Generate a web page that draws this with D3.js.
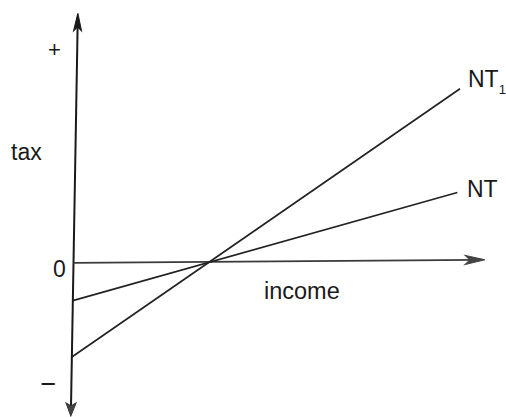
<!DOCTYPE html>
<html>
<head>
<meta charset="utf-8">
<script src="https://cdn.jsdelivr.net/npm/d3@7"></script>
<style>
  html, body { margin: 0; padding: 0; background: #fff; }
  svg { display: block; }
  text { font-family: "Liberation Sans", Arial, sans-serif; fill: #1a1a1a; }
</style>
</head>
<body>
<script>
// Net tax schedules: tax against income, both pivoting at the break-even income.
const incomeDomain = [0, 100];
const taxDomain = [-152, 248];
const seriesNames = ["NT", "NT1"];
const seriesIncome = [[0, 93], [0, 93.2]];
const seriesTax = [[-37.5, 67], [-93.5, 170]];
const axisLabels = { y: "tax", x: "income", plus: "+", minus: "\u2212", zero: "0" };

const W = 506, H = 417;
const svg = d3.select("body").append("svg").attr("width", W).attr("height", H);

const x = d3.scaleLinear().domain(incomeDomain).range([73.5, 485]);
const y = d3.scaleLinear().domain(taxDomain).range([416, 13]);

const ox = x(0), oy = y(0);
// slight shear of the drawn frame (axes lean a little)
const plot = svg.append("g")
  .attr("transform", `translate(${ox},${oy}) matrix(1,-0.00735,-0.0174,1,0,0) translate(${-ox},${-oy})`);

const ink = "#1a1a1a";

// vertical (tax) axis with arrows at both ends
const yTop = y(taxDomain[1]), yBot = y(taxDomain[0]);
plot.append("line")
  .attr("x1", ox).attr("x2", ox).attr("y1", yTop + 6).attr("y2", yBot - 6)
  .attr("stroke", ink).attr("stroke-width", 2);
plot.append("path")
  .attr("d", `M${ox},${yTop} L${ox - 4},${yTop + 18} L${ox},${yTop + 14} L${ox + 4},${yTop + 18} Z`)
  .attr("fill", ink).attr("stroke", ink).attr("stroke-width", 1);
plot.append("path")
  .attr("d", `M${ox},${yBot} L${ox - 5},${yBot - 13} L${ox},${yBot - 10} L${ox + 5},${yBot - 13} Z`)
  .attr("fill", "#444").attr("stroke", "#333").attr("stroke-width", 1);

// horizontal (income) axis with arrow
const xEnd = x(incomeDomain[1]);
plot.append("line")
  .attr("x1", ox).attr("x2", xEnd - 8).attr("y1", oy).attr("y2", oy)
  .attr("stroke", "#3a3a3a").attr("stroke-width", 1.8);
plot.append("path")
  .attr("d", `M${xEnd},${oy} L${xEnd - 20},${oy - 4.5} L${xEnd - 15},${oy} L${xEnd - 20},${oy + 4.5} Z`)
  .attr("fill", "#444").attr("stroke", "#444").attr("stroke-width", 1);

// tax schedules
const line = d3.line().x(d => x(d[0])).y(d => y(d[1]));
seriesNames.forEach((name, i) => {
  const pts = seriesIncome[i].map((inc, j) => [inc, seriesTax[i][j]]);
  plot.append("path")
    .attr("d", line(pts))
    .attr("fill", "none")
    .attr("stroke", "#222")
    .attr("stroke-width", 1.7);
});

// labels
svg.append("text").attr("x", 54.5).attr("y", 57).attr("text-anchor", "middle")
  .attr("font-size", 22).text(axisLabels.plus);
svg.append("text").attr("x", 11).attr("y", 160).attr("font-size", 23).text(axisLabels.y);
svg.append("text").attr("x", 53).attr("y", 277).attr("font-size", 23).text(axisLabels.zero);
svg.append("text").attr("x", 48.5).attr("y", 393).attr("text-anchor", "middle")
  .attr("font-size", 27).text(axisLabels.minus);
svg.append("text").attr("x", 264).attr("y", 299).attr("font-size", 23.5).text(axisLabels.x);

// series labels next to line ends
svg.append("text").attr("x", 467).attr("y", 197).attr("font-size", 23).text("NT");
const nt1 = svg.append("text").attr("x", 468).attr("y", 87).attr("font-size", 23);
nt1.append("tspan").text("NT");
nt1.append("tspan").attr("font-size", 13).attr("dy", 7).text("1");
</script>
</body>
</html>
